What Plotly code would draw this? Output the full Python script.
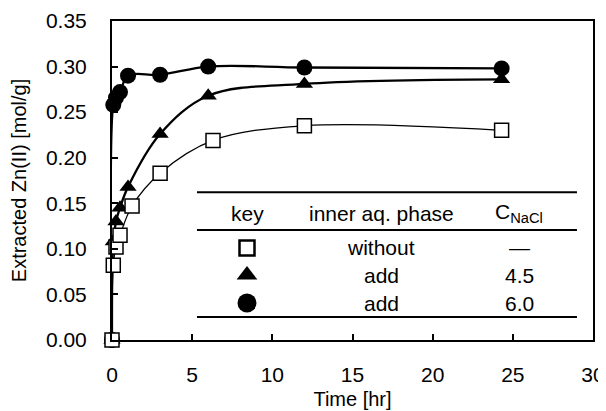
import plotly.graph_objects as go

# ---- data ----
t_without = [0, 0.08, 0.25, 0.5, 1.25, 3, 6.3, 12, 24.3]
zn_without = [0.0, 0.082, 0.102, 0.115, 0.147, 0.183, 0.219, 0.235, 0.230]

t_add45 = [0, 0.08, 0.25, 0.5, 1, 3, 6, 12, 24.3]
zn_add45 = [0.0, 0.108, 0.130, 0.145, 0.168, 0.226, 0.268, 0.281, 0.286]

t_add60 = [0, 0.08, 0.25, 0.5, 1, 3, 6, 12, 24.3]
zn_add60 = [0.0, 0.258, 0.266, 0.272, 0.290, 0.291, 0.300, 0.299, 0.298]

x_ticks = [0, 5, 10, 15, 20, 25, 30]
y_ticks = [0.00, 0.05, 0.10, 0.15, 0.20, 0.25, 0.30, 0.35]

key_header = ["key", "inner aq. phase", "C<sub>NaCl</sub>"]
key_phase = ["without", "add", "add"]
key_conc = ["\u2014", "4.5", "6.0"]

FONT = "Arial, Liberation Sans, Arimo, sans-serif"

fig = go.Figure()

# lines (smoothed) first
line_specs = [
    (t_without, zn_without, 1.3),
    (t_add45, zn_add45, 2.3),
    (t_add60, zn_add60, 2.3),
]
for tx, vy, lw in line_specs:
    fig.add_trace(go.Scatter(
        x=tx, y=vy, mode="lines",
        line=dict(color="black", width=lw, shape="spline", smoothing=1.0),
        showlegend=False, hoverinfo="skip", cliponaxis=False))

# markers: triangles, circles, then squares on top
marker_specs = [
    (t_add45, zn_add45, "triangle-up", "black", 0, 15),
    (t_add60, zn_add60, "circle", "black", 0, 16),
    (t_without, zn_without, "square", "white", 1.5, 14),
]
for tx, vy, sym, fc, lwid, size in marker_specs:
    fig.add_trace(go.Scatter(
        x=tx, y=vy, mode="markers",
        marker=dict(symbol=sym, size=size, color=fc, line=dict(color="black", width=lwid)),
        showlegend=False, cliponaxis=False))

# ---- key table (drawn inside the plot, in data units) ----
tbl_x0, tbl_x1 = 5.3, 29.0
tbl_lines_y = [0.1622, 0.1206, 0.0252]
col_x = [8.42, 16.8, 25.4]
header_y = 0.139
row_y = [0.101, 0.0712, 0.0406]

for yy in tbl_lines_y:
    fig.add_shape(type="line", xref="x", yref="y", x0=tbl_x0, x1=tbl_x1, y0=yy, y1=yy,
                  line=dict(color="black", width=2))

TFS = 21
for cx, txt in zip(col_x, key_header):
    fig.add_annotation(x=cx, y=header_y, xref="x", yref="y", text=txt, showarrow=False,
                       font=dict(family=FONT, size=TFS, color="black"))
for ry, ph, cc in zip(row_y, key_phase, key_conc):
    fig.add_annotation(x=col_x[1], y=ry, xref="x", yref="y", text=ph, showarrow=False,
                       font=dict(family=FONT, size=TFS, color="black"))
    fig.add_annotation(x=col_x[2], y=ry, xref="x", yref="y", text=cc, showarrow=False,
                       font=dict(family=FONT, size=TFS, color="black"))

key_fill = ["white", "black", "black"]
key_line = [2.5, 0, 0]
key_size = [15, 18, 19]
for ry, sym, fc, lwid, sz in zip(row_y, ["square", "triangle-up", "circle"], key_fill, key_line, key_size):
    fig.add_trace(go.Scatter(
        x=[col_x[0]], y=[ry], mode="markers",
        marker=dict(symbol=sym, size=sz, color=fc, line=dict(color="black", width=lwid)),
        showlegend=False, hoverinfo="skip"))

fig.update_layout(
    width=606, height=411,
    margin=dict(l=104, r=21, t=13, b=79),
    paper_bgcolor="white", plot_bgcolor="white",
    font=dict(family=FONT, size=20, color="black"),
    showlegend=False,
)
fig.update_xaxes(
    range=[0, 30], tickvals=x_ticks, ticktext=[str(v) for v in x_ticks],
    automargin=False,
    showgrid=False, zeroline=False,
    showline=True, linecolor="black", linewidth=2, mirror=True,
    ticks="inside", ticklen=6, tickwidth=1.5, tickcolor="black",
    tickfont=dict(size=21), ticklabelstandoff=15,
    title=dict(text="Time [hr]", font=dict(size=20), standoff=7),
)
fig.update_yaxes(
    range=[0, 0.35], tickvals=y_ticks, ticktext=[f"{v:.2f}" for v in y_ticks],
    automargin=False,
    showgrid=False, zeroline=False,
    showline=True, linecolor="black", linewidth=2, mirror=True,
    ticks="inside", ticklen=6, tickwidth=1.5, tickcolor="black",
    tickfont=dict(size=21), ticklabelstandoff=19,
    title=dict(text="Extracted Zn(II) [mol/g]", font=dict(size=20), standoff=15),
)

fig.write_html("out.html")
